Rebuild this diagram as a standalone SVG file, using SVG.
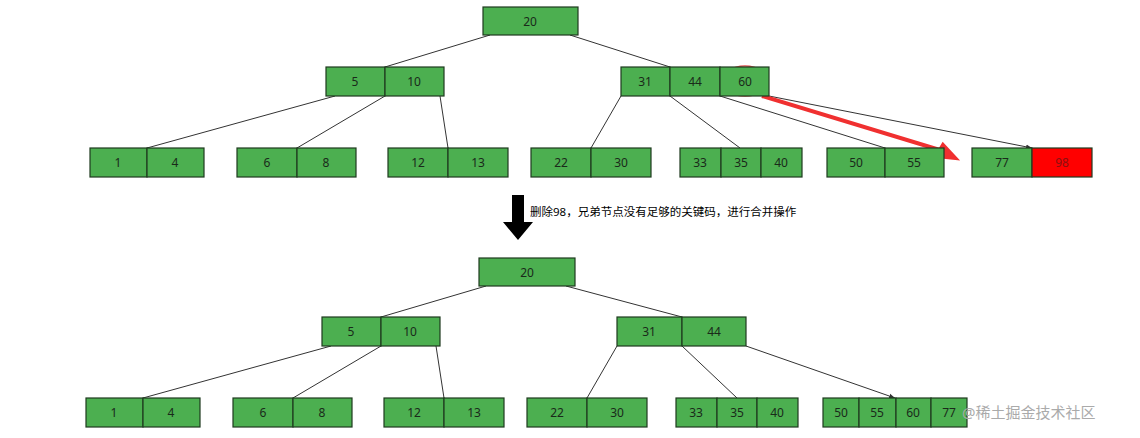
<svg xmlns="http://www.w3.org/2000/svg" width="1140" height="438" viewBox="0 0 1140 438">
<style>
.k{fill:#4caf50;stroke:#1e3a1e;stroke-width:1.2}
.r{fill:#ff0000;stroke:#1e3a1e;stroke-width:1.2}
text{font-family:"Noto Sans","Noto Sans CJK SC",sans-serif;font-size:12px;fill:#1a2a1a;text-anchor:middle;dominant-baseline:central}
.e{stroke:#333;stroke-width:1;fill:none;marker-end:url(#a)}
</style>
<defs><marker id="a" viewBox="0 0 10 10" refX="10" refY="5" markerWidth="6" markerHeight="6" orient="auto"><path d="M0,1L10,5L0,9z" fill="#333"/></marker></defs>
<rect width="1140" height="438" fill="#fff"/>
<g id="connectors">
<path class="e" d="M490,35L385,67M570,35L670,67M335,96L147,148M385,96L297,148M440,96L448,148M621,96L591,148M670,96L740,148M720,96L885,148M769,96L1032,148"/>
<path class="e" d="M486,286L381,317M566,286L682,317M331,346L143,398M381,346L293,398M436,346L444,398M617,346L587,398M682,346L737,398M746,346L895,398"/>
<path d="M762,96L940,150L937,156L955,158L943,145L940,150" fill="none" stroke="#f03030" stroke-width="4"/>
<path d="M943,144L956,158L934,157z" fill="#f03030"/>
<ellipse cx="745" cy="81" rx="23" ry="15" fill="none" stroke="#e05050" stroke-width="1.5"/>
</g>
<g id="top-root"><rect class="k" x="483" y="7" width="95" height="28"/><text x="530" y="21">20</text></g>
<g id="top-l"><rect class="k" x="326" y="67" width="59" height="29"/><rect class="k" x="385" y="67" width="59" height="29"/><text x="355" y="81">5</text><text x="414" y="81">10</text></g>
<g id="top-r"><rect class="k" x="621" y="67" width="49" height="29"/><rect class="k" x="670" y="67" width="50" height="29"/><rect class="k" x="720" y="67" width="49" height="29"/><text x="645" y="81">31</text><text x="695" y="81">44</text><text x="745" y="81">60</text></g>
<g id="t1"><rect class="k" x="90" y="148" width="57" height="29"/><rect class="k" x="147" y="148" width="57" height="29"/><text x="118" y="162">1</text><text x="175" y="162">4</text></g>
<g id="t2"><rect class="k" x="237" y="148" width="60" height="29"/><rect class="k" x="297" y="148" width="59" height="29"/><text x="267" y="162">6</text><text x="326" y="162">8</text></g>
<g id="t3"><rect class="k" x="388" y="148" width="60" height="29"/><rect class="k" x="448" y="148" width="60" height="29"/><text x="418" y="162">12</text><text x="478" y="162">13</text></g>
<g id="t4"><rect class="k" x="531" y="148" width="60" height="29"/><rect class="k" x="591" y="148" width="60" height="29"/><text x="561" y="162">22</text><text x="621" y="162">30</text></g>
<g id="t5"><rect class="k" x="680" y="148" width="41" height="29"/><rect class="k" x="721" y="148" width="40" height="29"/><rect class="k" x="761" y="148" width="41" height="29"/><text x="700" y="162">33</text><text x="741" y="162">35</text><text x="781" y="162">40</text></g>
<g id="t6"><rect class="k" x="827" y="148" width="58" height="29"/><rect class="k" x="885" y="148" width="59" height="29"/><text x="856" y="162">50</text><text x="914" y="162">55</text></g>
<g id="t7"><rect class="k" x="972" y="148" width="60" height="29"/><rect class="r" x="1032" y="148" width="60" height="29"/><text x="1002" y="162">77</text><text x="1062" y="162" style="fill:#8a1010">98</text></g>
<g id="step"><path d="M512,195H524V222H533L518,240L503,222H512z" fill="#000"/><text x="530" y="211" style="text-anchor:start;font-size:11.5px;fill:#000">删除98，兄弟节点没有足够的关键码，进行合并操作</text></g>
<g id="b-root"><rect class="k" x="479" y="258" width="96" height="28"/><text x="527" y="272">20</text></g>
<g id="b-l"><rect class="k" x="322" y="317" width="59" height="29"/><rect class="k" x="381" y="317" width="59" height="29"/><text x="351" y="331">5</text><text x="410" y="331">10</text></g>
<g id="b-r"><rect class="k" x="617" y="317" width="65" height="29"/><rect class="k" x="682" y="317" width="64" height="29"/><text x="649" y="331">31</text><text x="714" y="331">44</text></g>
<g id="b1"><rect class="k" x="86" y="398" width="57" height="29"/><rect class="k" x="143" y="398" width="57" height="29"/><text x="114" y="412">1</text><text x="171" y="412">4</text></g>
<g id="b2"><rect class="k" x="233" y="398" width="60" height="29"/><rect class="k" x="293" y="398" width="59" height="29"/><text x="263" y="412">6</text><text x="322" y="412">8</text></g>
<g id="b3"><rect class="k" x="384" y="398" width="60" height="29"/><rect class="k" x="444" y="398" width="60" height="29"/><text x="414" y="412">12</text><text x="474" y="412">13</text></g>
<g id="b4"><rect class="k" x="527" y="398" width="60" height="29"/><rect class="k" x="587" y="398" width="60" height="29"/><text x="557" y="412">22</text><text x="617" y="412">30</text></g>
<g id="b5"><rect class="k" x="676" y="398" width="41" height="29"/><rect class="k" x="717" y="398" width="40" height="29"/><rect class="k" x="757" y="398" width="41" height="29"/><text x="696" y="412">33</text><text x="737" y="412">35</text><text x="777" y="412">40</text></g>
<g id="b6"><rect class="k" x="823" y="398" width="36" height="29"/><rect class="k" x="859" y="398" width="37" height="29"/><rect class="k" x="896" y="398" width="35" height="29"/><rect class="k" x="931" y="398" width="36" height="29"/><text x="841" y="412">50</text><text x="877" y="412">55</text><text x="913" y="412">60</text><text x="949" y="412">77</text></g>
<text x="962" y="412" style="text-anchor:start;font-size:15px;fill:#aaa">@稀土掘金技术社区</text>
</svg>
